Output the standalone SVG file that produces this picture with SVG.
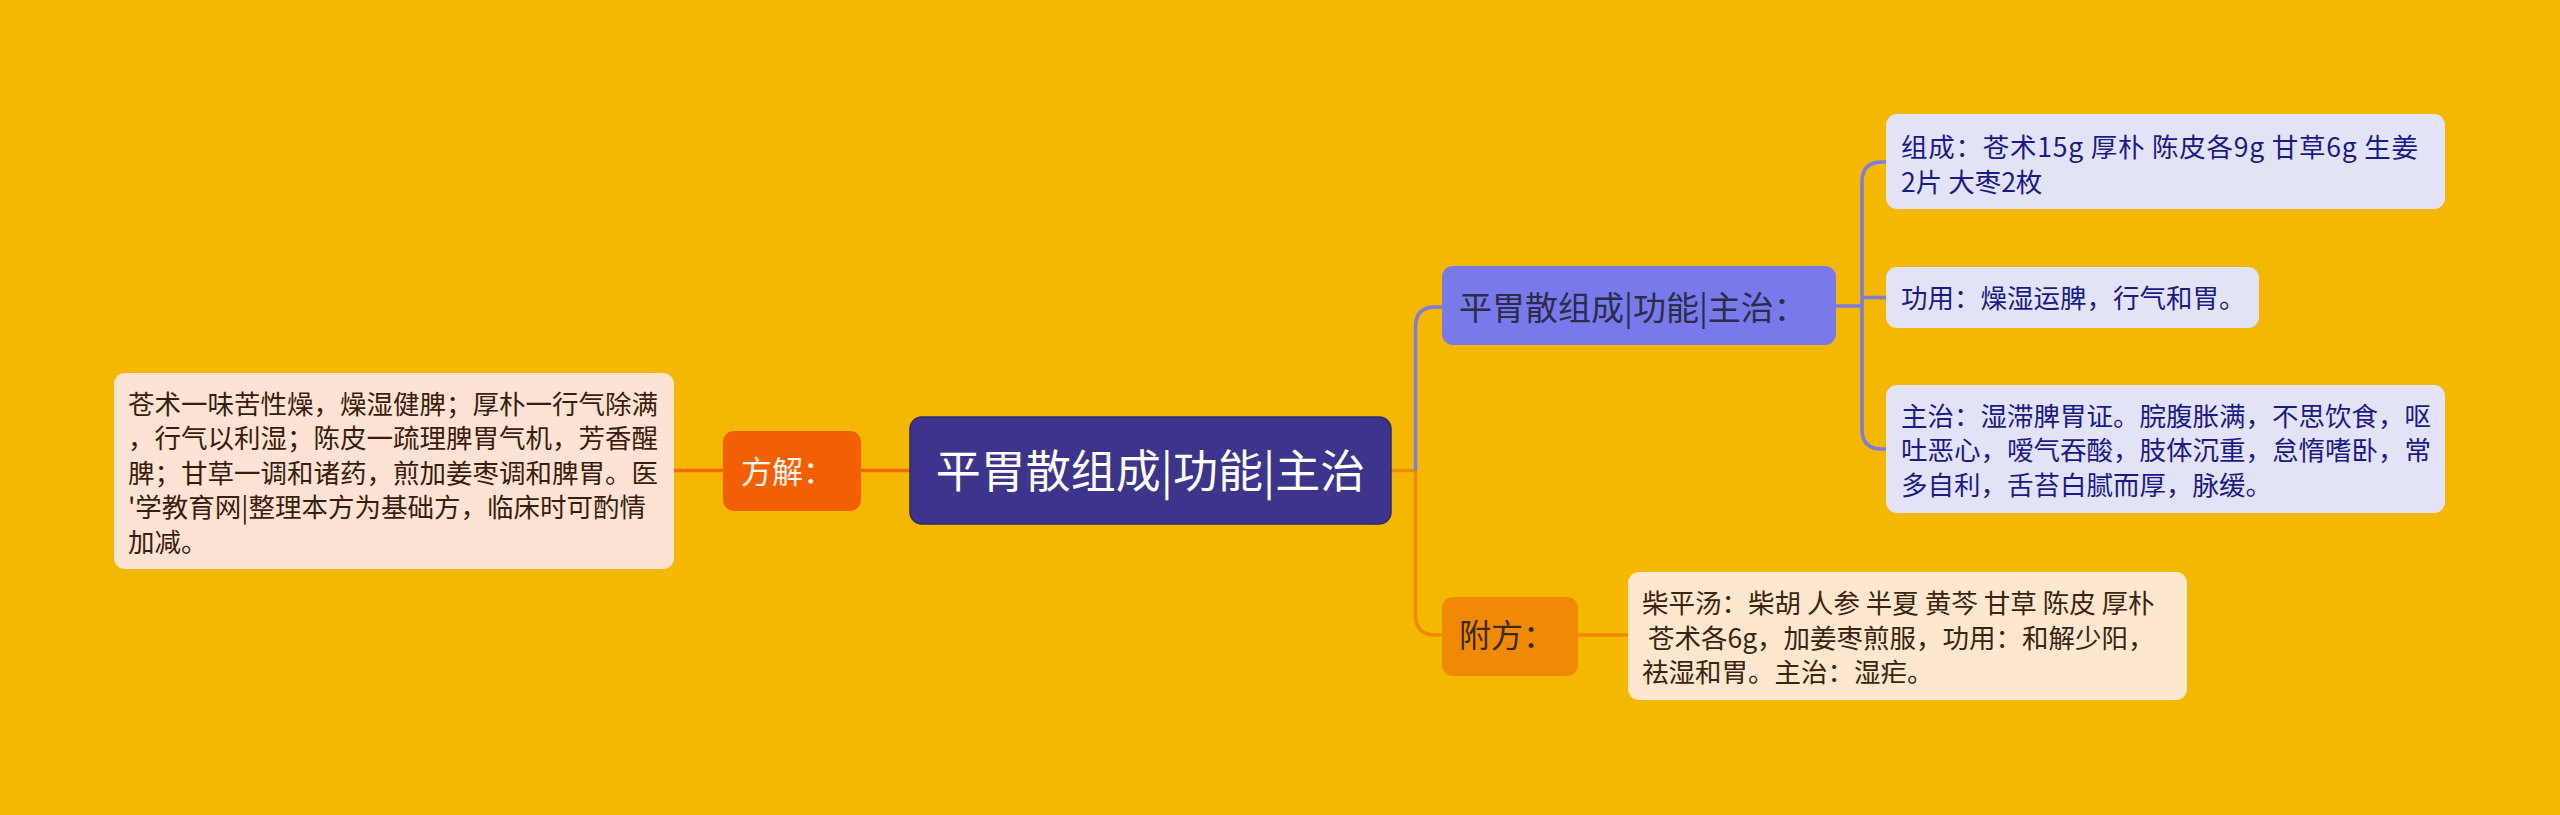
<svg xmlns="http://www.w3.org/2000/svg" width="2560" height="815" viewBox="0 0 2560 815">
<style>
text{font-family:"Noto Sans CJK SC","Noto Sans",sans-serif;}
.leaf{font-size:26.5px;}
.lb{fill:#3a1d0c;}
.rb{fill:#1b1b86;}
.fb{fill:#3b2410;}
.blue{fill:none;stroke:#7b7be0;stroke-width:3.5;}
.or1{fill:none;stroke:#f26a0a;stroke-width:3.5;}
.or2{fill:none;stroke:#f08a06;stroke-width:3.5;}
</style>
<rect x="0" y="0" width="2560" height="815" fill="#f5b800"/>
<g id="connectors">
<path class="or1" d="M674 470.5 H723"/>
<path class="or1" d="M861 470.5 H910"/>
<path class="or2" d="M1391 470.5 H1415.5 V615 Q1415.5 635 1435.5 635 H1442"/>
<path class="or2" d="M1578 635 H1628"/>
<path class="blue" d="M1415.5 470.5 V327 Q1415.5 307 1435.5 307 H1442"/>
<path class="blue" d="M1836 306 H1862"/>
<path class="blue" d="M1862 297.5 V182 Q1862 162 1882 162 H1886"/>
<path class="blue" d="M1862 297.5 H1886"/>
<path class="blue" d="M1862 297.5 V429 Q1862 449 1882 449 H1886"/>
</g>
<g id="root">
<rect x="910" y="417" width="481" height="107" rx="12" fill="#3d358b" stroke="#2e2870" stroke-width="1.5"/>
<text x="1150.5" y="488" font-size="45" fill="#ffffff" text-anchor="middle">平胃散组成|功能|主治</text>
</g>
<g id="fangjie">
<rect x="723" y="431" width="138" height="80" rx="11" fill="#f25f05"/>
<text x="741" y="483" font-size="31" fill="#fff6ee">方解：</text>
</g>
<g id="fangjie-text">
<rect x="114" y="373" width="560" height="196" rx="11" fill="#fde3d4"/>
<text class="leaf lb" x="128" y="413.5">苍术一味苦性燥，燥湿健脾；厚朴一行气除满</text>
<text class="leaf lb" x="128" y="448">，行气以利湿；陈皮一疏理脾胃气机，芳香醒</text>
<text class="leaf lb" x="128" y="482.5">脾；甘草一调和诸药，煎加姜枣调和脾胃。医</text>
<text class="leaf lb" x="128" y="517">'学教育网|整理本方为基础方，临床时可酌情</text>
<text class="leaf lb" x="128" y="551.5">加减。</text>
</g>
<g id="mid">
<rect x="1442" y="266" width="394" height="79" rx="11" fill="#7979ec"/>
<text x="1459" y="319.5" font-size="33" fill="#2c2c48">平胃散组成|功能|主治：</text>
</g>
<g id="zucheng">
<rect x="1886" y="114" width="559" height="95" rx="11" fill="#e3e3f8"/>
<text class="leaf rb" x="1901" y="157" textLength="517" lengthAdjust="spacing">组成：苍术15g 厚朴 陈皮各9g 甘草6g 生姜</text>
<text class="leaf rb" x="1901" y="192">2片 大枣2枚</text>
</g>
<g id="gongyong">
<rect x="1886" y="267" width="373" height="61" rx="11" fill="#e3e3f8"/>
<text class="leaf rb" x="1901" y="308">功用：燥湿运脾，行气和胃。</text>
</g>
<g id="zhuzhi">
<rect x="1886" y="385" width="559" height="128" rx="11" fill="#e3e3f8"/>
<text class="leaf rb" x="1901" y="425.5">主治：湿滞脾胃证。脘腹胀满，不思饮食，呕</text>
<text class="leaf rb" x="1901" y="460">吐恶心，嗳气吞酸，肢体沉重，怠惰嗜卧，常</text>
<text class="leaf rb" x="1901" y="495">多自利，舌苔白腻而厚，脉缓。</text>
</g>
<g id="fufang">
<rect x="1442" y="597" width="136" height="79" rx="11" fill="#f08a06"/>
<text x="1459" y="647" font-size="32" fill="#3b2a12">附方：</text>
</g>
<g id="fufang-text">
<rect x="1628" y="572" width="559" height="128" rx="11" fill="#fde8cf"/>
<text class="leaf fb" x="1642" y="613">柴平汤：柴胡 人参 半夏 黄芩 甘草 陈皮 厚朴</text>
<text class="leaf fb" x="1642" y="647.5" xml:space="preserve"> 苍术各6g，加姜枣煎服，功用：和解少阳，</text>
<text class="leaf fb" x="1642" y="682">祛湿和胃。主治：湿疟。</text>
</g>
</svg>
